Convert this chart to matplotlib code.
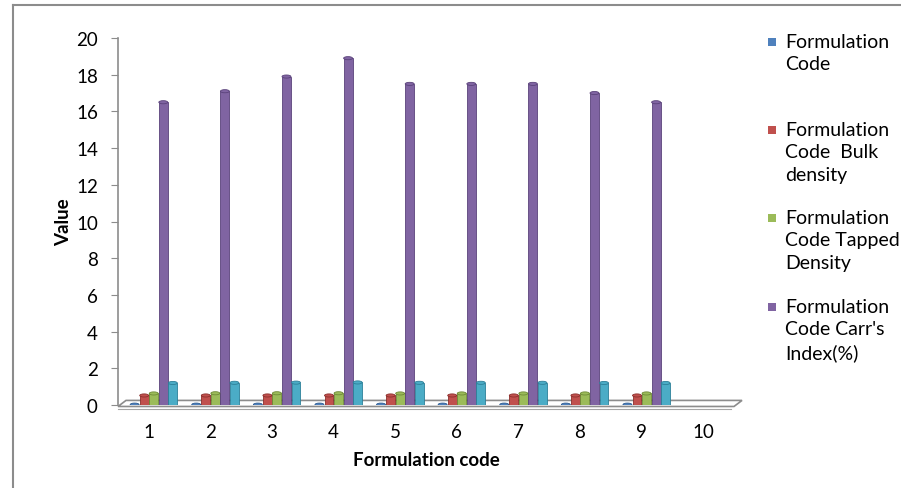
import matplotlib
matplotlib.use("Agg")
import matplotlib.pyplot as plt
import numpy as np
from matplotlib.patches import Ellipse, Polygon
from matplotlib.lines import Line2D

plt.rcParams['font.family'] = ['Lato', 'DejaVu Sans']

codes = [1, 2, 3, 4, 5, 6, 7, 8, 9, 10]
series_names = ["Formulation\nCode", "Formulation\nCode  Bulk\ndensity",
                "Formulation\nCode Tapped\nDensity", "Formulation\nCode Carr's\nIndex(%)",
                "Formulation\nCode Hausner's\nratio"]
code_vals = [0.02, 0.02, 0.02, 0.02, 0.02, 0.02, 0.02, 0.02, 0.02, 0]
bulk = [0.52, 0.52, 0.52, 0.52, 0.52, 0.52, 0.52, 0.52, 0.52, 0]
tapped = [0.63, 0.64, 0.64, 0.64, 0.63, 0.63, 0.63, 0.63, 0.63, 0]
carr = [16.5, 17.1, 17.9, 18.9, 17.5, 17.5, 17.5, 17.0, 16.5, 0]
hausner = [1.2, 1.21, 1.22, 1.23, 1.21, 1.21, 1.21, 1.2, 1.2, 0]
colors = ["#4F81BD", "#C0504D", "#9BBB59", "#8064A2", "#4BACC6"]
edges = ["#2c5a8f", "#8c2f2c", "#6e8a36", "#5a427a", "#2c7f98"]

fig = plt.figure(figsize=(9.01, 4.89), dpi=100)
ax = fig.add_axes([118 / 901, 1 - 406 / 489, 616 / 901, 367 / 489])

x = np.array(codes, dtype=float)
w = 0.145
step = 0.155
all_vals = [code_vals, bulk, tapped, carr, hausner]
for i, vals in enumerate(all_vals):
    xs = x + (i - 2) * step + 0.08
    for xi, v in zip(xs, vals):
        if v <= 0:
            continue
        ax.bar(xi, v, width=w, color=colors[i], edgecolor=edges[i], linewidth=0.6, zorder=3)
        ax.add_patch(Ellipse((xi, v), w, 0.17, facecolor=colors[i], edgecolor=edges[i],
                             linewidth=0.6, zorder=4))

# floor slab
floor = Polygon([(0.5, -0.08), (10.5, -0.08), (10.63, 0.25), (0.63, 0.25)], closed=True,
                facecolor="white", edgecolor="#8c8c8c", linewidth=1.2, zorder=1, clip_on=False)
ax.add_patch(floor)
ax.plot([0.5, 10.45], [-0.2, -0.2], color="#a6a6a6", lw=0.8, clip_on=False, zorder=1)

ax.set_xlim(0.5, 10.5)
ax.set_ylim(0, 20)
ax.set_yticks(range(0, 21, 2))
ax.set_xticks(codes)
for s in ["top", "right", "bottom"]:
    ax.spines[s].set_visible(False)
ax.spines["left"].set_color("#8c8c8c")
ax.spines["left"].set_linewidth(1.2)
ax.tick_params(axis="y", direction="out", length=5, color="#8c8c8c", pad=9.5, labelsize=13.5)
ax.tick_params(axis="x", length=0, pad=13, labelsize=13.5)
ax.set_ylabel("Value", fontsize=13.5, fontweight="bold", labelpad=3)
ax.set_xlabel("Formulation code", fontsize=13.5, fontweight="bold", labelpad=8)

# legend (only the first four entries are visible in the original)
leg_tops = [34, 122, 210, 299]
for i in range(4):
    fig.patches.append(plt.Rectangle((768 / 901, 1 - (leg_tops[i] + 13) / 489), 8 / 901, 8 / 489,
                                     transform=fig.transFigure, facecolor=colors[i], edgecolor="none"))
    fig.text(785 / 901, 1 - leg_tops[i] / 489, series_names[i], fontsize=14, va="top", ha="left",
             linespacing=1.38)

# chart border
fig.add_artist(Line2D([13 / 901, 13 / 901], [0, 1 - 6 / 489], transform=fig.transFigure,
                      color="#8c8c8c", lw=1.5))
fig.add_artist(Line2D([13 / 901, 1], [1 - 6 / 489, 1 - 6 / 489], transform=fig.transFigure,
                      color="#8c8c8c", lw=1.5))

fig.savefig("out.png", dpi=100)
